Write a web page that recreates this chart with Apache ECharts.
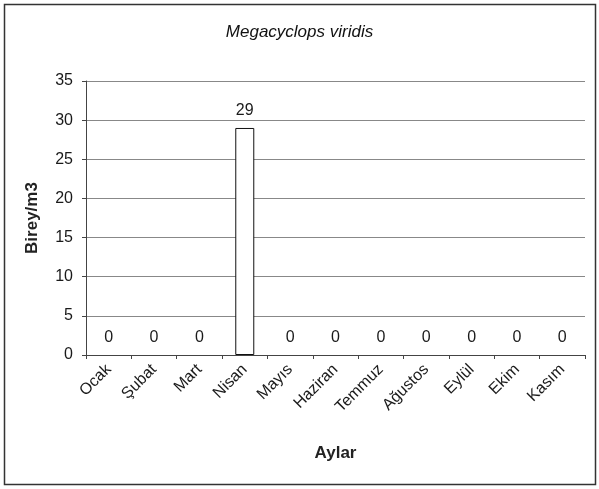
<!DOCTYPE html>
<html>
<head>
<meta charset="utf-8">
<script src="https://cdn.jsdelivr.net/npm/echarts@6/dist/echarts.min.js"></script>
<style>
html,body{margin:0;padding:0;background:#fff;}
#c{width:599px;height:489px;}
</style>
</head>
<body>
<div id="c"></div>
<script>
var categories = ['Ocak','Şubat','Mart','Nisan','Mayıs','Haziran','Temmuz','Ağustos','Eylül','Ekim','Kasım'];
var values = [0,0,0,29,0,0,0,0,0,0,0];
var yTicks = [0,5,10,15,20,25,30,35];

var chart = echarts.init(document.getElementById('c'), null, {renderer:'canvas'});
var font = 'Liberation Sans, Arial, sans-serif';
var barData = values.map(function(v){
  return {value: v, itemStyle: {borderWidth: v === 0 ? 0 : 1}};
});
chart.setOption({
  backgroundColor: '#fff',
  animation: false,
  title: {
    text: 'Megacyclops viridis',
    left: 'center', top: 19,
    textStyle: {fontFamily: font, fontSize: 17, fontStyle: 'italic', fontWeight: 'normal', color: '#111'}
  },
  graphic: [{
    type: 'rect', shape: {x: 4.5, y: 4.5, width: 591, height: 480},
    style: {fill: 'none', stroke: '#333', lineWidth: 1.5}, silent: true
  }],
  grid: {left: 86, right: 14, top: 81, bottom: 134, containLabel: false},
  xAxis: {
    type: 'category', data: categories,
    name: 'Aylar', nameLocation: 'middle', nameGap: 90,
    nameTextStyle: {fontFamily: font, fontSize: 17, fontWeight: 'bold', color: '#222'},
    axisLine: {lineStyle: {color: '#444'}},
    axisTick: {show: true, alignWithLabel: false, length: 4, lineStyle: {color: '#444'}},
    axisLabel: {rotate: 45, fontFamily: font, fontSize: 16, color: '#1a1a1a', margin: 12, interval: 0}
  },
  yAxis: {
    type: 'value', min: yTicks[0], max: yTicks[yTicks.length-1], interval: 5,
    name: 'Birey/m3', nameLocation: 'middle', nameGap: 45,
    nameTextStyle: {fontFamily: font, fontSize: 17, fontWeight: 'bold', color: '#222'},
    axisLine: {show: true, lineStyle: {color: '#444'}},
    axisTick: {show: true, length: 4, lineStyle: {color: '#444'}},
    splitLine: {lineStyle: {color: '#888', width: 1}},
    axisLabel: {fontFamily: font, fontSize: 16, color: '#1a1a1a', margin: 13}
  },
  series: [{
    type: 'bar', data: barData, barWidth: 19,
    itemStyle: {color: '#fff', borderColor: '#111', borderWidth: 1},
    label: {show: true, position: 'top', distance: 9, fontFamily: font, fontSize: 16, color: '#1a1a1a'}
  }]
});
</script>
</body>
</html>
